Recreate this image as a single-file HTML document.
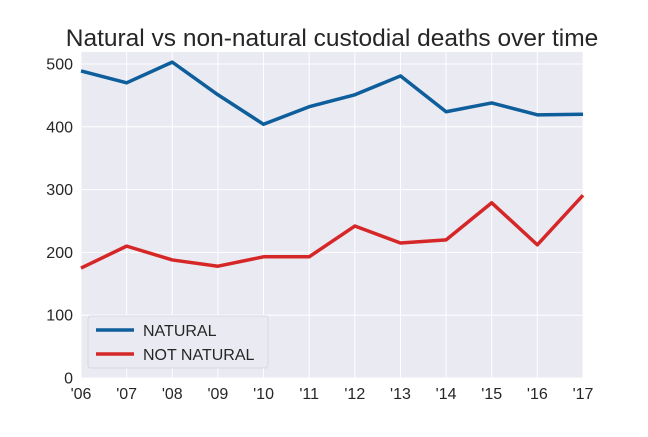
<!DOCTYPE html>
<html><head><meta charset="utf-8"><style>
body{margin:0;background:#fff;font-family:"Liberation Sans",Arial,sans-serif}
svg text{font-family:"Liberation Sans",Arial,sans-serif}
</style></head><body>
<svg id="chart" width="648" height="432">
<text x="332" y="46" text-anchor="middle" font-size="24.5" fill="#262626">Natural vs non-natural custodial deaths over time</text>
<rect x="81" y="52" width="502" height="326" fill="#EAEAF2"/>
<g id="grid"></g><g id="ticks"></g><g id="lines"></g>
<g>
<rect x="88" y="316" width="180" height="52" rx="3" fill="#EAEAF2" stroke="#d8d8e0"/>
<line x1="96" y1="330" x2="134" y2="330" stroke="#0f5e9c" stroke-width="3.5"/>
<text x="143" y="336" font-size="16" fill="#262626">NATURAL</text>
<line x1="96" y1="354" x2="134" y2="354" stroke="#d62728" stroke-width="3.5"/>
<text x="143" y="360" font-size="16" fill="#262626">NOT NATURAL</text>
</g>
</svg>
<script>
const years=["'06","'07","'08","'09","'10","'11","'12","'13","'14","'15","'16","'17"];
const natural=[489,470,503,451,404,432,451,481,424,438,419,420];
const notNatural=[175,210,188,178,193,193,242,215,220,279,212,291];
const yTicks=[0,100,200,300,400,500];
const NS="http://www.w3.org/2000/svg";
const x=i=>81+i*(502/(years.length-1));
const y=v=>378-v*0.628;
function mk(t,a,p){const e=document.createElementNS(NS,t);for(const k in a)e.setAttribute(k,a[k]);document.getElementById(p).appendChild(e);return e;}
yTicks.forEach(v=>{
 const g=mk('line',{x1:81,x2:583,y1:y(v),y2:y(v),stroke:'#fff','stroke-width':1},'grid');
 
 
 const t=mk('text',{x:73,y:y(v)+5.5,'text-anchor':'end','font-size':16,fill:'#262626'},'ticks');t.textContent=v;
 
 
});
years.forEach((yr,i)=>{
 const g=mk('line',{x1:x(i),x2:x(i),y1:52,y2:378,stroke:'#fff','stroke-width':1},'grid');
 
 
 const t=mk('text',{x:x(i),y:399,'text-anchor':'middle','font-size':16,fill:'#262626'},'ticks');t.textContent=yr;
 
 
});
function line(d,c,n){const p=mk('polyline',{points:d.map((v,i)=>x(i)+','+y(v)).join(' '),fill:'none',stroke:c,'stroke-width':3.5,'stroke-linejoin':'round'},'lines');
 
 }
line(natural,'#0f5e9c','natural-line');
line(notNatural,'#d62728','not-natural-line');
</script>
</body></html>
